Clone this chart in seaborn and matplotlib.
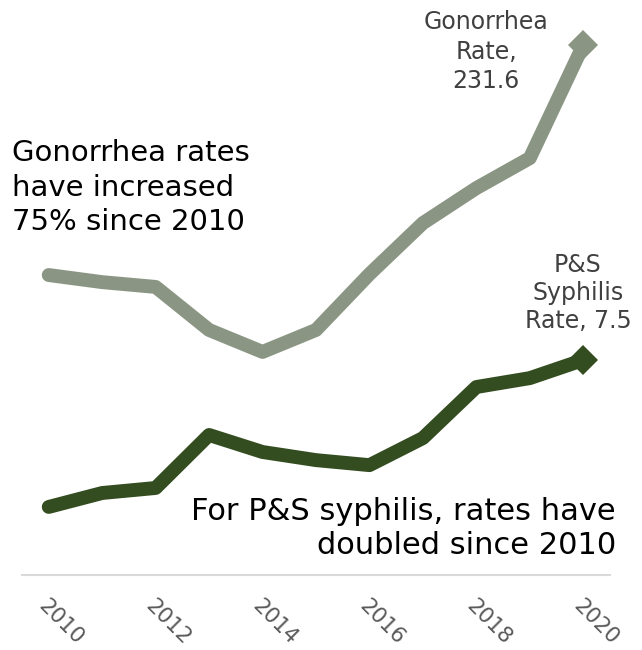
import numpy as np
import pandas as pd
import matplotlib
matplotlib.use("Agg")
import matplotlib.pyplot as plt
import seaborn as sns

# Data (rate per 100,000)
years = [2010, 2011, 2012, 2013, 2014, 2015, 2016, 2017, 2018, 2019, 2020]
gonorrhea = [131.1, 128.0, 125.9, 107.1, 97.5, 107.1, 131.5, 153.8, 169.1, 182.2, 231.6]
syphilis = [3.7, 4.06, 4.19, 5.56, 5.12, 4.91, 4.78, 5.48, 6.80, 7.03, 7.5]
tick_years = [2010, 2012, 2014, 2016, 2018, 2020]

df = pd.DataFrame({"Year": years, "Gonorrhea": gonorrhea, "Syphilis": syphilis})

sns.set_style("white")
plt.rcParams["font.family"] = ["DejaVu Sans"]

gon_color = "#8A9683"
syp_color = "#344D20"

W, H = 642, 650
fig = plt.figure(figsize=(W / 100, H / 100), dpi=100)
# axes in pixel coordinates: left 22, right 610, bottom 575, top 30
ax = fig.add_axes([22 / W, (H - 575) / H, (610 - 22) / W, (575 - 30) / H])
ax2 = ax.twinx()

sns.lineplot(data=df, x="Year", y="Gonorrhea", ax=ax, color=gon_color,
             linewidth=10, solid_capstyle="round", marker="D", markevery=[len(years) - 1],
             markersize=15, markeredgewidth=0)
sns.lineplot(data=df, x="Year", y="Syphilis", ax=ax2, color=syp_color,
             linewidth=10, solid_capstyle="round", marker="D", markevery=[len(years) - 1],
             markersize=15, markeredgewidth=0)

ax.set_xlim(2009.5, 2020.5)
ax.set_ylim(0, 238.2)
ax2.set_ylim(1.94, 16.03)

for a in (ax, ax2):
    for s in ("top", "right", "left", "bottom"):
        a.spines[s].set_visible(False)
    a.set_yticks([])
    a.set_ylabel("")
    a.set_xlabel("")

ax.spines["bottom"].set_visible(True)
ax.spines["bottom"].set_color("#D9D9D9")
ax.spines["bottom"].set_linewidth(1.5)

ax.set_xticks(tick_years)
ax.set_xticklabels([str(y) for y in tick_years], rotation=-45, ha="left",
                   va="top", rotation_mode="anchor", fontsize=15.5, color="#595959")
ax.tick_params(axis="x", length=0, pad=15)
for lbl in ax.get_xticklabels():
    lbl.set_x(lbl.get_position()[0])


def px(x, y):
    return x / W, 1 - y / H


fig.text(*px(12, 139), "Gonorrhea rates\nhave increased\n75% since 2010",
         ha="left", va="top", fontsize=21, color="black", linespacing=1.3)
fig.text(*px(616, 497), "For P&S syphilis, rates have\ndoubled since 2010",
         ha="right", va="top", fontsize=22, color="black", linespacing=1.2)
fig.text(*px(486, 10), "Gonorrhea\nRate,\n231.6",
         ha="center", va="top", fontsize=17, color="#404040", linespacing=1.3)
fig.text(*px(578, 253), "P&S\nSyphilis\nRate, 7.5",
         ha="center", va="top", fontsize=17, color="#404040", linespacing=1.2)

fig.savefig("out.png", dpi=100)
